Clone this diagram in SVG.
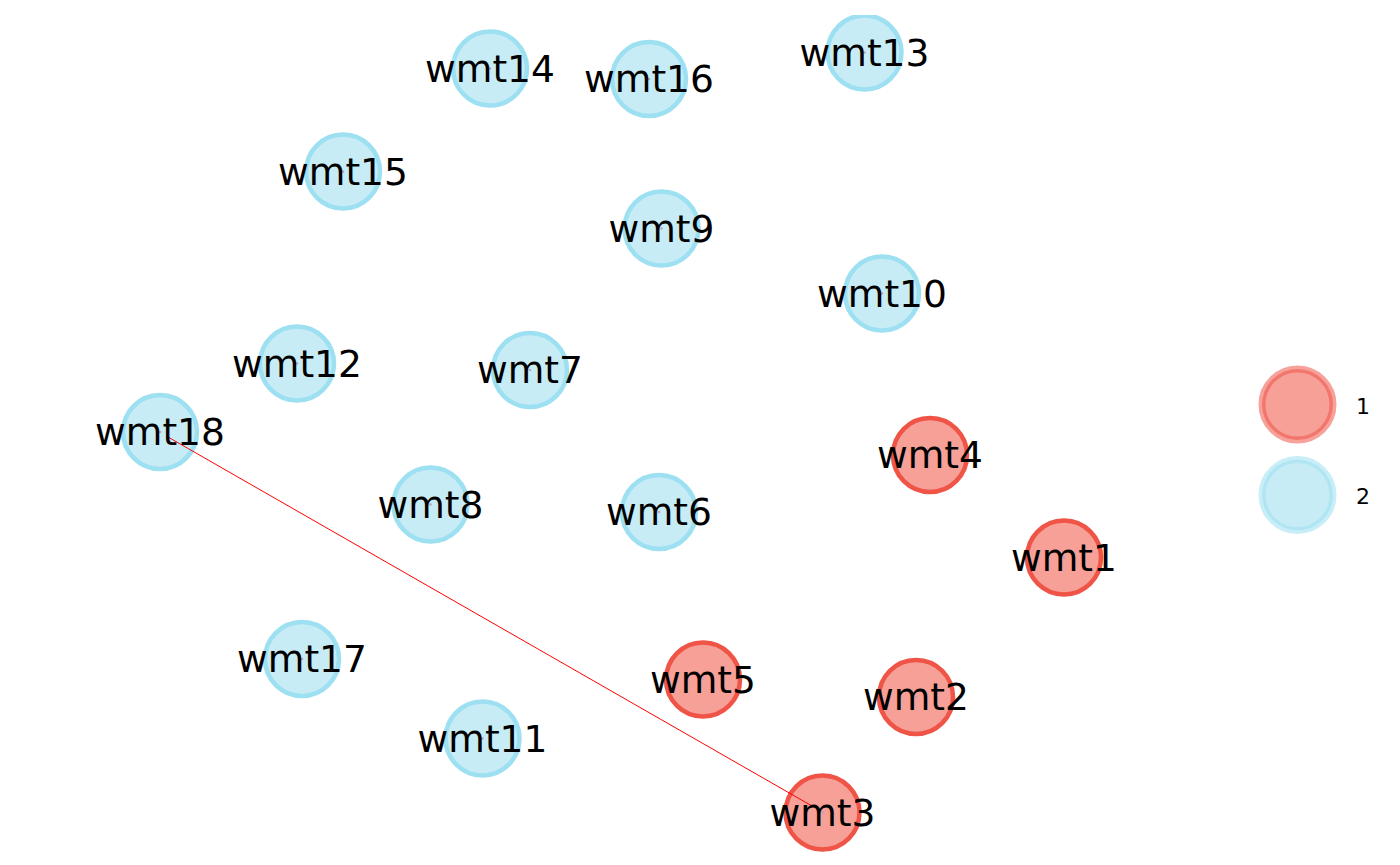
<svg xmlns="http://www.w3.org/2000/svg" width="1400" height="865" viewBox="0 0 1400 865">
<style>
.n2 circle.b{fill:#C8ECF5;stroke:#9CE0F1;stroke-width:4.5}
.n1 circle.b{fill:#F6A097;stroke:#EF5447;stroke-width:4.5}
circle.d{fill:#C9A3AA}
text.l{font-family:"DejaVu Sans",sans-serif;font-size:37.6px;fill:#000;text-anchor:middle}
text.g{font-family:"DejaVu Sans",sans-serif;font-size:22px;fill:#000;text-anchor:middle}
.edge{stroke:#FF0000;stroke-width:1;fill:none}
</style>
<defs>
<clipPath id="plot"><rect x="0" y="15" width="1400" height="850"/></clipPath>
</defs>
<rect width="1400" height="865" fill="#FFFFFF"/>
<g clip-path="url(#plot)">
<g id="nodes-circles">
<g id="wmt14" class="n2"><circle class="b" cx="490" cy="68.5" r="37"/><circle class="d" cx="490" cy="68.5" r="1.3"/></g>
<g id="wmt16" class="n2"><circle class="b" cx="649" cy="79" r="37"/><circle class="d" cx="649" cy="79" r="1.3"/></g>
<g id="wmt13" class="n2"><circle class="b" cx="864.5" cy="52.5" r="37"/><circle class="d" cx="864.5" cy="52.5" r="1.3"/></g>
<g id="wmt15" class="n2"><circle class="b" cx="343" cy="171.5" r="37"/><circle class="d" cx="343" cy="171.5" r="1.3"/></g>
<g id="wmt9" class="n2"><circle class="b" cx="661.5" cy="228.5" r="37"/><circle class="d" cx="661.5" cy="228.5" r="1.3"/></g>
<g id="wmt10" class="n2"><circle class="b" cx="882" cy="293.5" r="37"/><circle class="d" cx="882" cy="293.5" r="1.3"/></g>
<g id="wmt12" class="n2"><circle class="b" cx="297" cy="363.5" r="37"/><circle class="d" cx="297" cy="363.5" r="1.3"/></g>
<g id="wmt7" class="n2"><circle class="b" cx="530" cy="370" r="37"/><circle class="d" cx="530" cy="370" r="1.3"/></g>
<g id="wmt18" class="n2"><circle class="b" cx="160" cy="432" r="37"/><circle class="d" cx="160" cy="432" r="1.3"/></g>
<g id="wmt4" class="n1"><circle class="b" cx="930" cy="455" r="37"/><circle class="d" cx="930" cy="455" r="1.3"/></g>
<g id="wmt8" class="n2"><circle class="b" cx="430.5" cy="504.5" r="37"/><circle class="d" cx="430.5" cy="504.5" r="1.3"/></g>
<g id="wmt6" class="n2"><circle class="b" cx="659" cy="512" r="37"/><circle class="d" cx="659" cy="512" r="1.3"/></g>
<g id="wmt1" class="n1"><circle class="b" cx="1064" cy="557.5" r="37"/><circle class="d" cx="1064" cy="557.5" r="1.3"/></g>
<g id="wmt17" class="n2"><circle class="b" cx="302" cy="659" r="37"/><circle class="d" cx="302" cy="659" r="1.3"/></g>
<g id="wmt5" class="n1"><circle class="b" cx="703" cy="679.5" r="37"/><circle class="d" cx="703" cy="679.5" r="1.3"/></g>
<g id="wmt2" class="n1"><circle class="b" cx="916" cy="697" r="37"/><circle class="d" cx="916" cy="697" r="1.3"/></g>
<g id="wmt11" class="n2"><circle class="b" cx="482.5" cy="738.5" r="37"/><circle class="d" cx="482.5" cy="738.5" r="1.3"/></g>
<g id="wmt3" class="n1"><circle class="b" cx="822.5" cy="812.5" r="37"/><circle class="d" cx="822.5" cy="812.5" r="1.3"/></g>
</g>
<g id="connectors">
<line class="edge" x1="168" y1="437" x2="812" y2="806"/>
</g>
<g id="labels">
<text class="l" x="490" y="81.8">wmt14</text>
<text class="l" x="649" y="92.3">wmt16</text>
<text class="l" x="864.5" y="65.8">wmt13</text>
<text class="l" x="343" y="184.8">wmt15</text>
<text class="l" x="661.5" y="241.8">wmt9</text>
<text class="l" x="882" y="306.8">wmt10</text>
<text class="l" x="297" y="376.8">wmt12</text>
<text class="l" x="530" y="383.3">wmt7</text>
<text class="l" x="160" y="445.3">wmt18</text>
<text class="l" x="930" y="468.3">wmt4</text>
<text class="l" x="430.5" y="517.8">wmt8</text>
<text class="l" x="659" y="525.3">wmt6</text>
<text class="l" x="1064" y="570.8">wmt1</text>
<text class="l" x="302" y="672.3">wmt17</text>
<text class="l" x="703" y="692.8">wmt5</text>
<text class="l" x="916" y="710.3">wmt2</text>
<text class="l" x="482.5" y="751.8">wmt11</text>
<text class="l" x="822.5" y="825.8">wmt3</text>
</g>
</g>
<g id="legend">
<g id="legend-1">
<circle cx="1297.5" cy="404.5" r="35.5" fill="#F6A097" stroke="#EF5447" stroke-opacity="0.55" stroke-width="7"/>
<text class="g" x="1363" y="413.5">1</text>
</g>
<g id="legend-2">
<circle cx="1297.5" cy="495" r="35.5" fill="#C8ECF5" stroke="#9CE0F1" stroke-opacity="0.55" stroke-width="7"/>
<text class="g" x="1363" y="504">2</text>
</g>
</g>
</svg>
